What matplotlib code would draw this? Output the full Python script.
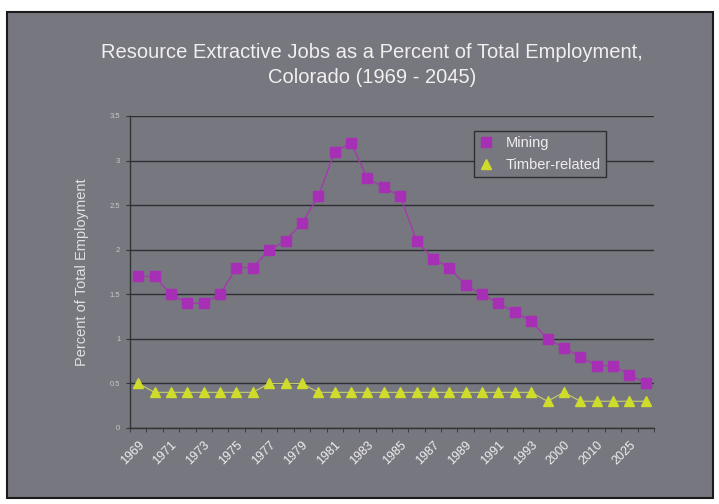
import matplotlib
matplotlib.use("Agg")
import matplotlib.pyplot as plt
from matplotlib.patches import Rectangle

plt.rcParams['font.family'] = ['Liberation Sans', 'DejaVu Sans']

categories = [str(y) for y in range(1969, 1995)] + ["2000", "2005", "2010", "2020", "2025", "2045"]
mining = [1.7, 1.7, 1.5, 1.4, 1.4, 1.5, 1.8, 1.8, 2.0, 2.1, 2.3, 2.6, 3.1, 3.2, 2.8, 2.7,
          2.6, 2.1, 1.9, 1.8, 1.6, 1.5, 1.4, 1.3, 1.2, 1.0,
          0.9, 0.8, 0.7, 0.7, 0.6, 0.5]
timber = [0.5, 0.4, 0.4, 0.4, 0.4, 0.4, 0.4, 0.4, 0.5, 0.5, 0.5, 0.4, 0.4, 0.4, 0.4, 0.4,
          0.4, 0.4, 0.4, 0.4, 0.4, 0.4, 0.4, 0.4, 0.4, 0.3,
          0.4, 0.3, 0.3, 0.3, 0.3, 0.3]
yticks = [0, 0.5, 1, 1.5, 2, 2.5, 3, 3.5]
ytick_labels = ["0", "0.5", "1", "1.5", "2", "2.5", "3", "3.5"]

bg = "#77777f"
W, H = 719, 504
fig = plt.figure(figsize=(W / 100, H / 100), dpi=100, facecolor="white")
frame = Rectangle((7 / W, 1 - 498 / H), (713 - 7) / W, (498 - 12) / H,
                  transform=fig.transFigure, facecolor=bg,
                  edgecolor="#1a1a1a", linewidth=1.5, zorder=-10)
fig.add_artist(frame)

ax = fig.add_axes([130 / W, 1 - 428 / H, (654 - 130) / W, (428 - 116) / H])
ax.set_zorder(5)
ax.set_facecolor(bg)
x = list(range(len(categories)))
ax.plot(x, mining, color="#a33aae", linewidth=1, marker="s", markersize=6.5,
        markerfacecolor="#a62fb6", markeredgecolor="#a62fb6", label="Mining", zorder=3)
ax.plot(x, timber, color="#c8cf6a", linewidth=0.8, marker="^", markersize=7,
        markerfacecolor="#cfdc2c", markeredgecolor="#cfdc2c", label="Timber-related", zorder=3)

ax.set_xlim(-0.5, len(categories) - 0.5)
ax.set_ylim(0, 3.5)
ax.set_yticks(yticks)
ax.set_yticklabels(ytick_labels, fontsize=5.5, color="#c8c8c8")
ax.yaxis.grid(True, color="#2e2e33", linewidth=1)
ax.set_axisbelow(True)
ax.set_xticks(x)
ax.set_xticklabels([c if i % 2 == 0 else "" for i, c in enumerate(categories)],
                   rotation=45, ha="right", rotation_mode="anchor", fontsize=9, color="#eeeeee")
ax.set_xticks([i - 0.5 for i in range(len(categories) + 1)], minor=True)
ax.tick_params(axis="x", which="major", length=0, pad=8)
ax.tick_params(axis="x", which="minor", length=3, color="#333333")
ax.tick_params(axis="y", length=3, color="#333333", pad=4)
for s in ["top", "right"]:
    ax.spines[s].set_visible(False)
for s in ["left", "bottom"]:
    ax.spines[s].set_color("#333333")
    ax.spines[s].set_linewidth(1)

ax.set_ylabel("Percent of Total Employment", fontsize=10.5, color="#e0e0e0", labelpad=15)

fig.text(372 / W, 1 - 65 / H, "Resource Extractive Jobs as a Percent of Total Employment,\nColorado (1969 - 2045)",
         ha="center", va="center", fontsize=14.5, color="#f0f0f0", linespacing=1.45)

leg = ax.legend(loc="upper left", bbox_to_anchor=((474 - 130) / (654 - 130), 1 - (131 - 116) / (428 - 116)),
                fontsize=10.5, frameon=True, facecolor=bg, edgecolor="#2e2e33", labelcolor="#eeeeee",
                handlelength=1.0, handletextpad=0.8, borderpad=0.35, labelspacing=0.55,
                fancybox=False, framealpha=1, borderaxespad=0)
leg.get_frame().set_linewidth(1)
for line in leg.get_lines():
    line.set_linestyle("none")

fig.savefig("out.png", dpi=100, facecolor="white")
